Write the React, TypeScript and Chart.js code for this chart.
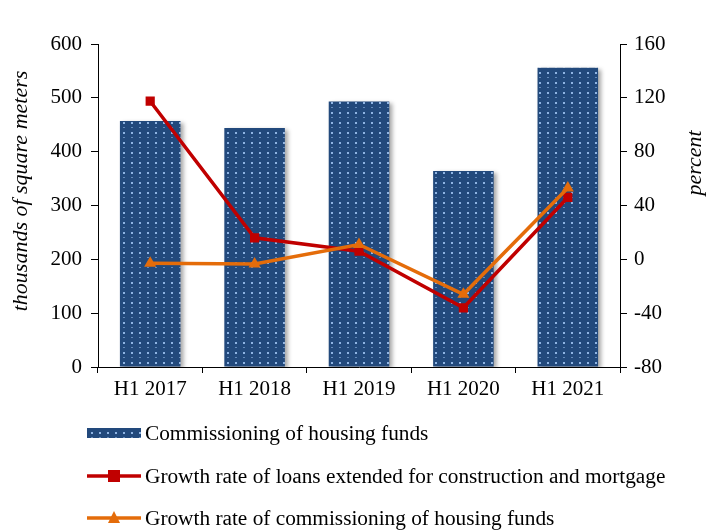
import React, { useEffect, useRef } from "react";
import { Chart, registerables } from "chart.js";
Chart.register(...registerables);

const categories = ["H1 2017", "H1 2018", "H1 2019", "H1 2020", "H1 2021"];
const commissioning = [457, 444, 493, 364, 556];
const loanGrowth = [117.5, 16, 6, -36, 46];
const commissioningGrowth = [-3, -3.5, 11, -26, 53];
const leftTicks = [0, 100, 200, 300, 400, 500, 600];
const rightTicks = [-80, -40, 0, 40, 80, 120, 160];

const legendLabels = [
  "Commissioning of housing funds",
  "Growth rate of loans extended for construction and mortgage",
  "Growth rate of commissioning of housing funds",
];

const BAR = "#22497C";
const DOT = "#8FB4E3";
const RED = "#C00000";
const ORANGE = "#E46C0A";
const FONT = '"Liberation Serif", "Times New Roman", serif';

function makePattern(): CanvasPattern | string {
  const c = document.createElement("canvas");
  c.width = 8;
  c.height = 10;
  const x = c.getContext("2d");
  if (!x) return BAR;
  x.fillStyle = BAR;
  x.fillRect(0, 0, 8, 10);
  x.fillStyle = DOT;
  x.fillRect(3, 2, 2, 2);
  x.fillStyle = "rgba(143,180,227,0.6)";
  x.fillRect(3, 7, 2, 1);
  const ctx = document.createElement("canvas").getContext("2d");
  return ctx ? (ctx.createPattern(c, "repeat") as CanvasPattern) : BAR;
}

export default function App() {
  const ref = useRef<HTMLCanvasElement>(null);
  useEffect(() => {
    document.body.style.margin = "0";
    if (!ref.current) return;
    const pattern = makePattern();
    const shadowPlugin = {
      id: "barShadow",
      beforeDatasetDraw(chart: any, args: any) {
        if (args.index === 0) {
          const ctx = chart.ctx;
          ctx.save();
          ctx.shadowColor = "rgba(0,0,0,0.35)";
          ctx.shadowBlur = 4;
          ctx.shadowOffsetX = 3;
          ctx.shadowOffsetY = 2;
        }
      },
      afterDatasetDraw(chart: any, args: any) {
        if (args.index === 0) chart.ctx.restore();
      },
    };
    const decoPlugin = {
      id: "deco",
      afterDraw(chart: any) {
        const ctx = chart.ctx as CanvasRenderingContext2D;
        ctx.save();
        ctx.fillStyle = "#000";
        ctx.font = `italic 22px ${FONT}`;
        ctx.textAlign = "center";
        ctx.textBaseline = "middle";
        ctx.save();
        ctx.translate(21, 191);
        ctx.rotate(-Math.PI / 2);
        ctx.fillText("thousands of square meters", 0, 0);
        ctx.restore();
        ctx.save();
        ctx.translate(695, 163);
        ctx.rotate(-Math.PI / 2);
        ctx.fillText("percent", 0, 0);
        ctx.restore();
        // legend
        const rows = [433, 476, 518];
        const x0 = 87;
        const x1 = 141;
        ctx.font = `21.3px ${FONT}`;
        ctx.textAlign = "left";
        ctx.textBaseline = "middle";
        ctx.fillStyle = pattern as any;
        ctx.fillRect(x0, rows[0] - 5, x1 - x0, 10);
        ctx.strokeStyle = RED;
        ctx.lineWidth = 3.5;
        ctx.beginPath();
        ctx.moveTo(x0, rows[1]);
        ctx.lineTo(x1, rows[1]);
        ctx.stroke();
        ctx.fillStyle = RED;
        ctx.fillRect((x0 + x1) / 2 - 6, rows[1] - 6, 12, 12);
        ctx.strokeStyle = ORANGE;
        ctx.beginPath();
        ctx.moveTo(x0, rows[2]);
        ctx.lineTo(x1, rows[2]);
        ctx.stroke();
        ctx.fillStyle = ORANGE;
        const cx = (x0 + x1) / 2;
        ctx.beginPath();
        ctx.moveTo(cx, rows[2] - 7);
        ctx.lineTo(cx + 6, rows[2] + 5);
        ctx.lineTo(cx - 6, rows[2] + 5);
        ctx.closePath();
        ctx.fill();
        ctx.fillStyle = "#000";
        legendLabels.forEach((t, i) => ctx.fillText(t, 145, rows[i] + 1));
        ctx.restore();
      },
    };
    const chart = new Chart(ref.current, {
      type: "bar",
      data: {
        labels: categories,
        datasets: [
          {
            type: "bar",
            label: legendLabels[0],
            data: commissioning,
            backgroundColor: pattern as any,
            borderWidth: 0,
            barPercentage: 0.58,
            categoryPercentage: 1,
            yAxisID: "y",
            order: 3,
          },
          {
            type: "line",
            label: legendLabels[1],
            data: loanGrowth,
            borderColor: RED,
            backgroundColor: RED,
            borderWidth: 3.5,
            pointStyle: "rect",
            pointRadius: 6.5,
            pointBorderWidth: 0,
            tension: 0,
            yAxisID: "y1",
            order: 1,
          },
          {
            type: "line",
            label: legendLabels[2],
            data: commissioningGrowth,
            borderColor: ORANGE,
            backgroundColor: ORANGE,
            borderWidth: 3.5,
            pointStyle: "triangle",
            pointRadius: 7,
            pointBorderWidth: 0,
            tension: 0,
            yAxisID: "y1",
            order: 0,
          },
        ],
      },
      options: {
        responsive: false,
        animation: false,
        layout: { padding: { top: 44, bottom: 124, left: 8, right: 8 } },
        plugins: { legend: { display: false }, tooltip: { enabled: false } },
        scales: {
          x: {
            offset: true,
            grid: { offset: true, drawOnChartArea: false, tickLength: 6, color: "#000" },
            border: { color: "#000", width: 1 },
            ticks: { color: "#000", font: { family: FONT, size: 21 }, padding: 4 },
            afterFit(s: any) {
              s.height = 40;
            },
          },
          y: {
            position: "left",
            min: 0,
            max: 600,
            afterBuildTicks(s: any) {
              s.ticks = leftTicks.map((v) => ({ value: v }));
            },
            grid: { drawOnChartArea: false, tickLength: 7, color: "#000" },
            border: { color: "#000", width: 1 },
            ticks: { color: "#000", font: { family: FONT, size: 21 }, padding: 9 },
            afterFit(s: any) {
              s.width = 90;
            },
          },
          y1: {
            position: "right",
            min: -80,
            max: 160,
            afterBuildTicks(s: any) {
              s.ticks = rightTicks.map((v) => ({ value: v }));
            },
            grid: { drawOnChartArea: false, tickLength: 7, color: "#000" },
            border: { color: "#000", width: 1 },
            ticks: { color: "#000", font: { family: FONT, size: 21 }, padding: 7 },
            afterFit(s: any) {
              s.width = 79;
            },
          },
        },
      },
      plugins: [shadowPlugin, decoPlugin],
    });
    return () => chart.destroy();
  }, []);
  return (
    <div style={{ width: 707, height: 531 }}>
      <canvas ref={ref} width={707} height={531} style={{ display: "block" }} />
    </div>
  );
}
